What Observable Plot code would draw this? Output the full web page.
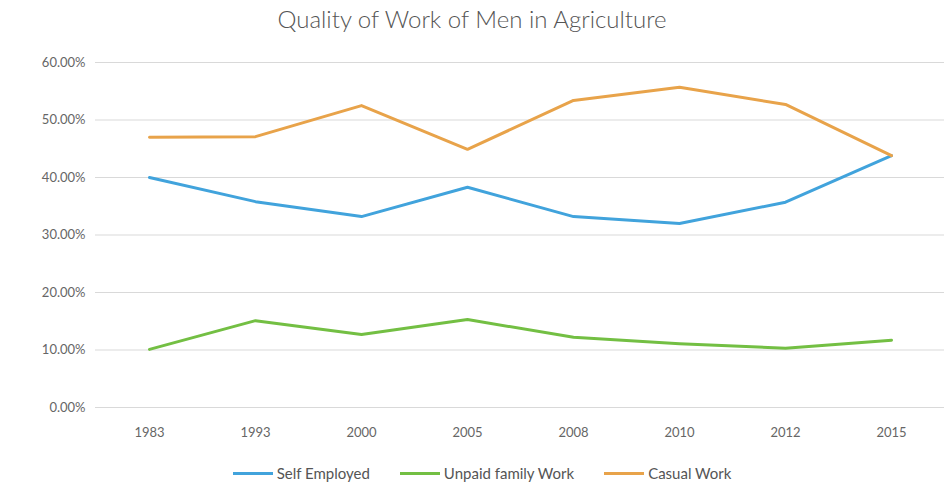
<!DOCTYPE html>
<html>
<head>
<meta charset="utf-8">
<script src="https://cdn.jsdelivr.net/npm/d3@7"></script>
<script src="https://cdn.jsdelivr.net/npm/@observablehq/plot@0.6"></script>
<style>
  body { margin: 0; background: #fff; font-family: Lato, "Open Sans", sans-serif; }
  #title { height: 40px; line-height: 38px; text-align: center; font-size: 24px; color: #555; font-weight: 300; }
  #legend { display: flex; justify-content: center; gap: 30px; font-size: 15px; color: #555; margin-top: 4px; padding-left: 20px; }
  #legend span { display: inline-flex; align-items: center; }
  #legend i { display: inline-block; width: 40px; height: 3px; margin-right: 4px; }
</style>
</head>
<body>
<div id="title">Quality of Work of Men in Agriculture</div>
<div id="chart"></div>
<div id="legend"></div>
<script>
const years = ["1983", "1993", "2000", "2005", "2008", "2010", "2012", "2015"];
const selfEmployed = [40.0, 35.8, 33.2, 38.3, 33.2, 32.0, 35.7, 43.8];
const unpaidFamily = [10.1, 15.1, 12.7, 15.3, 12.2, 11.1, 10.3, 11.7];
const casualWork = [47.0, 47.1, 52.5, 44.9, 53.4, 55.7, 52.7, 43.8];
const series = [
  {name: "Self Employed", values: selfEmployed, color: "#41a3dc"},
  {name: "Unpaid family Work", values: unpaidFamily, color: "#73bf43"},
  {name: "Casual Work", values: casualWork, color: "#e8a34a"}
];
const data = series.flatMap(s => s.values.map((v, i) => ({year: years[i], value: v, name: s.name})));

const chart = Plot.plot({
  width: 944,
  height: 420,
  marginLeft: 95,
  marginRight: 0,
  marginTop: 22,
  marginBottom: 53,
  style: {fontFamily: "Lato, 'Open Sans', sans-serif", fontSize: 13, color: "#666"},
  x: {type: "point", domain: years, padding: 0.5, label: null, tickSize: 0, tickPadding: 20},
  y: {domain: [0, 60], ticks: d3.range(0, 61, 10), tickFormat: d => d.toFixed(2) + "%", label: null, tickSize: 0, tickPadding: 10},
  color: {domain: series.map(s => s.name), range: series.map(s => s.color)},
  marks: [
    Plot.gridY(d3.range(0, 61, 10), {stroke: "#d9d9d9", strokeOpacity: 1}),
    Plot.line(data, {x: "year", y: "value", z: "name", stroke: "name", strokeWidth: 3})
  ]
});
document.getElementById("chart").append(chart);
const legend = document.getElementById("legend");
for (const s of series) {
  const el = document.createElement("span");
  el.innerHTML = `<i style="background:${s.color}"></i>${s.name}`;
  legend.append(el);
}
</script>
</body>
</html>
